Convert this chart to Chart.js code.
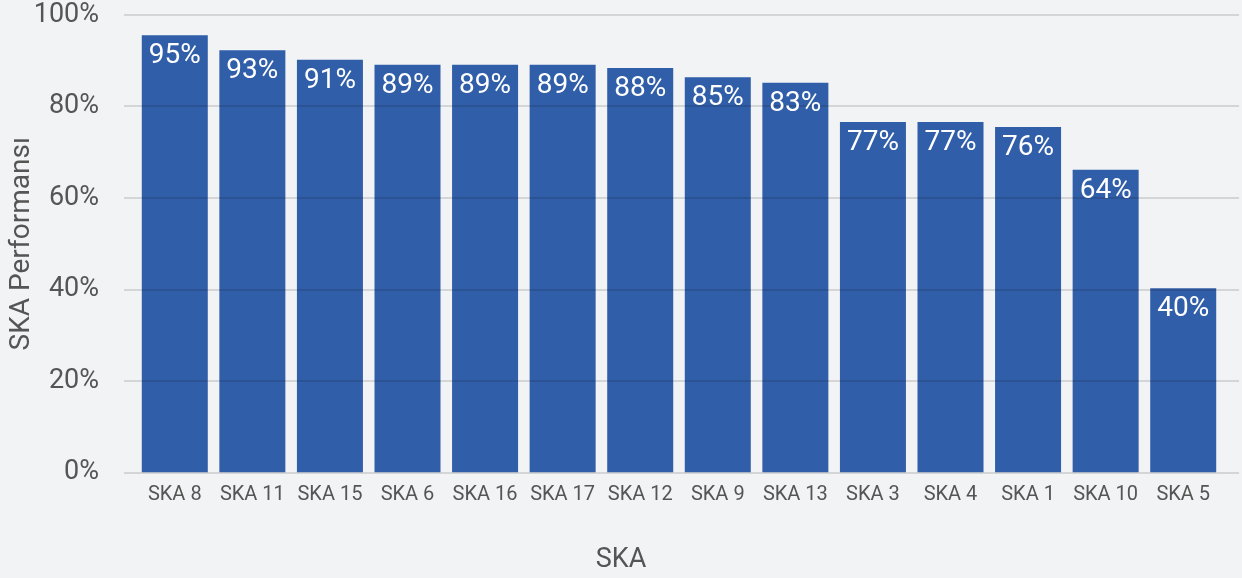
<!DOCTYPE html>
<html>
<head>
<meta charset="utf-8">
<script src="https://cdn.jsdelivr.net/npm/chart.js@4.4.0/dist/chart.umd.min.js"></script>
<style>
  html, body { margin: 0; padding: 0; background: #f2f3f5; }
  #wrap { width: 1242px; height: 578px; }
</style>
</head>
<body>
<div id="wrap"><canvas id="chart"></canvas></div>
<script>
// SKA performance, sorted high to low
const categories = ['SKA 8', 'SKA 11', 'SKA 15', 'SKA 6', 'SKA 16', 'SKA 17', 'SKA 12', 'SKA 9', 'SKA 13', 'SKA 3', 'SKA 4', 'SKA 1', 'SKA 10', 'SKA 5']
const values = [95.6, 92.3, 90.2, 89.1, 89.1, 89.1, 88.4, 86.4, 85.2, 76.6, 76.6, 75.5, 66.2, 40.3]
const valueLabels = ['95%', '93%', '91%', '89%', '89%', '89%', '88%', '85%', '83%', '77%', '77%', '76%', '64%', '40%']
const yTicks = [0, 20, 40, 60, 80, 100]

const fontName = 'Roboto'
const textColor = '#555555'

// horizontal grid drawn over the bars, a bit wider than the plot area
const gridOver = {
  id: 'gridOver',
  afterDatasetsDraw(chart) {
    const ctx = chart.ctx
    const y = chart.scales.y
    ctx.save()
    ctx.lineWidth = 2
    ctx.strokeStyle = 'rgba(0,0,0,0.12)'
    yTicks.forEach(v => {
      const py = Math.round(y.getPixelForValue(v))
      ctx.beginPath()
      ctx.moveTo(124, py)
      ctx.lineTo(1239, py)
      ctx.stroke()
    })
    ctx.restore()
  }
}

// white value labels inside the top of each bar + x title centred on the canvas
const barLabels = {
  id: 'barLabels',
  afterDatasetsDraw(chart) {
    const ctx = chart.ctx
    const meta = chart.getDatasetMeta(0)
    ctx.save()
    ctx.fillStyle = '#ffffff'
    ctx.font = '28px ' + fontName
    ctx.textAlign = 'center'
    ctx.textBaseline = 'middle'
    meta.data.forEach((bar, i) => {
      ctx.fillText(valueLabels[i], bar.x, bar.y + 21)
    })
    ctx.fillStyle = textColor
    ctx.font = '27px ' + fontName
    ctx.fillText('SKA', chart.width / 2, 560)
    ctx.restore()
  }
}

new Chart(document.getElementById('chart'), {
  type: 'bar',
  data: {
    labels: categories,
    datasets: [{
      data: values,
      backgroundColor: '#315ea8',
      borderWidth: 0,
      categoryPercentage: 1,
      barPercentage: 0.851
    }]
  },
  options: {
    responsive: true,
    maintainAspectRatio: false,
    animation: false,
    layout: { padding: { top: 15, right: 20, left: 0, bottom: 0 } },
    plugins: {
      legend: { display: false },
      tooltip: { enabled: false }
    },
    scales: {
      x: {
        grid: { display: false, drawTicks: false },
        border: { display: false },
        ticks: {
          color: textColor,
          font: { family: fontName, size: 20 },
          padding: 10,
          maxRotation: 0,
          autoSkip: false
        },
        afterFit(scale) { scale.height = 105.5 }
      },
      y: {
        min: 0,
        max: 100,
        grid: { display: false, drawTicks: false },
        border: { display: false },
        ticks: {
          stepSize: 20,
          color: textColor,
          font: { family: fontName, size: 27 },
          padding: 37,
          callback: v => v + '%'
        },
        title: {
          display: true,
          text: 'SKA Performansı',
          color: textColor,
          font: { family: fontName, size: 28 },
          padding: { top: 5, bottom: 0 }
        },
        afterFit(scale) {
          scale.width = 136
          scale.paddingTop = 0
          scale.paddingBottom = 0
        }
      }
    }
  },
  plugins: [gridOver, barLabels]
})
</script>
</body>
</html>
